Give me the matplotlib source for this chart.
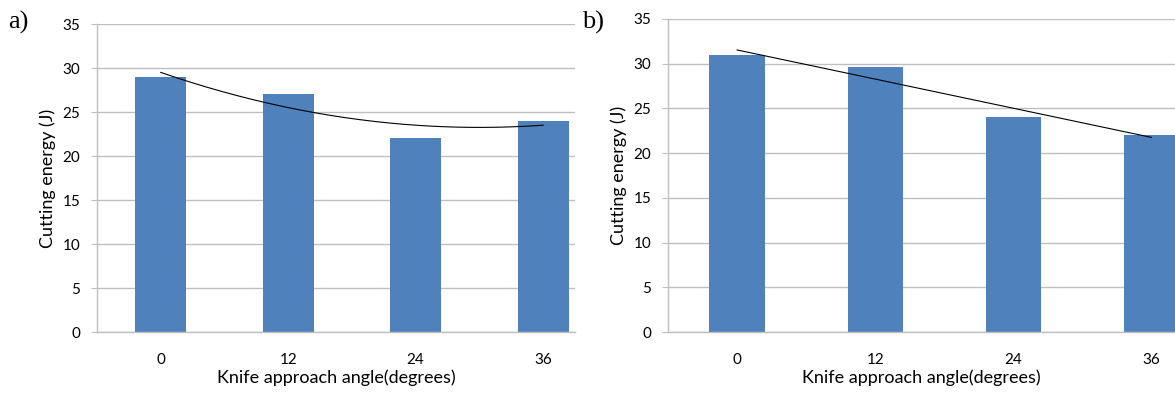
import numpy as np
import matplotlib
matplotlib.use("Agg")
import matplotlib.pyplot as plt

# ----------------------------
# Data
# ----------------------------
angles = ["0", "12", "24", "36"]
energy_a = [29, 27, 22, 24]
energy_b = [31, 29.6, 24, 22]

bar_color = "#4F81BD"
grid_color = "#BFBFBF"

plt.rcParams["font.family"] = ["Lato", "DejaVu Sans"]

fig = plt.figure(figsize=(11.75, 3.94), dpi=100)
W, H = 1175, 394


def panel(left, right, top, bottom, values, xmax, deg, letter, letter_x):
    ax = fig.add_axes([left / W, (H - bottom) / H, (right - left) / W, (bottom - top) / H])
    x = np.arange(len(values))
    ax.bar(x, values, width=0.4, color=bar_color, zorder=2)

    # trendline (Excel style polynomial / linear fit)
    coef = np.polyfit(x, values, deg)
    xs = np.linspace(0, len(values) - 1, 200)
    ax.plot(xs, np.polyval(coef, xs), color="black", lw=0.8, zorder=3)

    ax.set_xlim(-0.5, xmax)
    ax.set_ylim(0, 35)
    ax.set_yticks(range(0, 36, 5))
    ax.set_xticks(x)
    ax.set_xticklabels(angles)
    ax.grid(axis="y", color=grid_color, lw=1, zorder=0)
    ax.set_axisbelow(True)

    for s in ["top", "right"]:
        ax.spines[s].set_visible(False)
    for s in ["left", "bottom"]:
        ax.spines[s].set_color(grid_color)
        ax.spines[s].set_linewidth(1)

    ax.tick_params(axis="y", length=4, color=grid_color, labelsize=11, pad=8)
    ax.tick_params(axis="x", length=0, labelsize=11, pad=15)
    ax.set_xlabel("Knife approach angle(degrees)", fontsize=13, labelpad=2)
    ax.set_ylabel("Cutting energy (J)", fontsize=13, labelpad=5)

    fig.text(letter_x / W, 1 - 22 / H, letter, fontsize=19,
             family="Liberation Serif", ha="left", va="center")
    return ax


panel(97, 575, 24, 332, energy_a, 3.25, 2, "a)", 8)
panel(668, 1175, 19, 332, energy_b, 3.17, 1, "b)", 582)

plt.savefig("out.png", dpi=100)
